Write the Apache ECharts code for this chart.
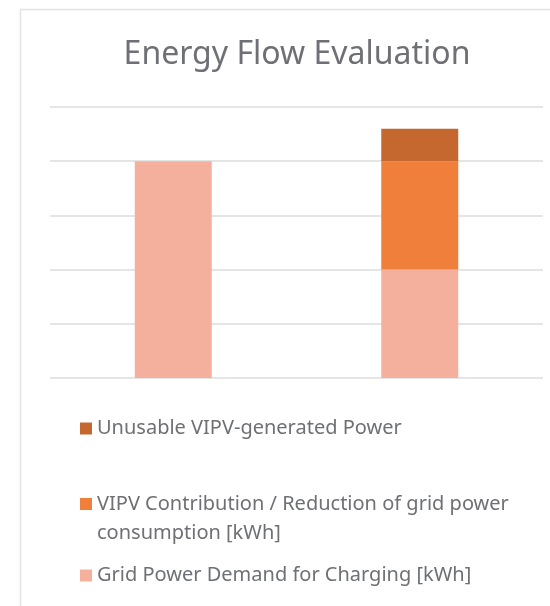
<!DOCTYPE html>
<html>
<head>
<meta charset="utf-8">
<script src="https://cdn.jsdelivr.net/npm/echarts@6/dist/echarts.min.js"></script>
<style>html,body{margin:0;padding:0;background:#fff;}#c{width:550px;height:606px;}</style>
</head>
<body>
<div id="c"></div>
<script>
const categories = ['Without VIPV', 'With VIPV'];
const gridDemand = [4, 2];
const vipvContribution = [0, 2];
const unusablePower = [0, 0.6];
const seriesNames = [
  'Grid Power Demand for Charging [kWh]',
  'VIPV Contribution / Reduction of grid power consumption [kWh]',
  'Unusable VIPV-generated Power'
];
const legendLine1 = 'VIPV Contribution / Reduction of grid power';
const legendLine2 = 'consumption [kWh]';
const colors = ['#F4B09C', '#EF7F3A', '#C46830'];

const chart = echarts.init(document.getElementById('c'));
const font = '"Noto Sans", sans-serif';
const textColor = '#6e7075';
const legendText = {color: textColor, fontSize: 20, fontFamily: font, lineHeight: 28};
const legendBase = {left: 75, orient: 'vertical', icon: 'rect', itemWidth: 12, itemHeight: 12, itemGap: 0, textStyle: legendText};
chart.setOption({
  animation: false,
  title: {
    text: 'Energy Flow Evaluation',
    left: 292, top: 34, textAlign: 'center',
    textStyle: {color: textColor, fontSize: 32, fontWeight: 'normal', fontFamily: font}
  },
  graphic: [{
    type: 'rect', shape: {x: 20.5, y: 9.5, width: 600, height: 700},
    style: {fill: 'none', stroke: '#e3e3e3', lineWidth: 1.5}, silent: true, z: -10
  }, {
    type: 'text', left: 97, top: 519,
    style: {text: legendLine2, fill: textColor, font: '20px "Noto Sans", sans-serif', lineHeight: 28}
  }],
  grid: {left: 50, right: 7, top: 107, bottom: 228},
  xAxis: {
    type: 'category', data: categories,
    axisLine: {show: false}, axisTick: {show: false}, axisLabel: {show: false}
  },
  yAxis: {
    type: 'value', min: 0, max: 5, interval: 1,
    axisLabel: {show: false}, axisLine: {show: false}, axisTick: {show: false},
    splitLine: {lineStyle: {color: '#dcdcdc', width: 1.5}}
  },
  legend: [
    Object.assign({data: [seriesNames[2]], top: 409.5}, legendBase),
    Object.assign({data: [seriesNames[1]], top: 485, formatter: () => legendLine1}, legendBase),
    Object.assign({data: [seriesNames[0]], top: 556.5}, legendBase)
  ],
  series: [
    {name: seriesNames[0], type: 'bar', stack: 's', data: gridDemand, barWidth: 77, itemStyle: {color: colors[0]}},
    {name: seriesNames[1], type: 'bar', stack: 's', data: vipvContribution, barWidth: 77, itemStyle: {color: colors[1]}},
    {name: seriesNames[2], type: 'bar', stack: 's', data: unusablePower, barWidth: 77, itemStyle: {color: colors[2]}}
  ]
});
</script>
</body>
</html>
